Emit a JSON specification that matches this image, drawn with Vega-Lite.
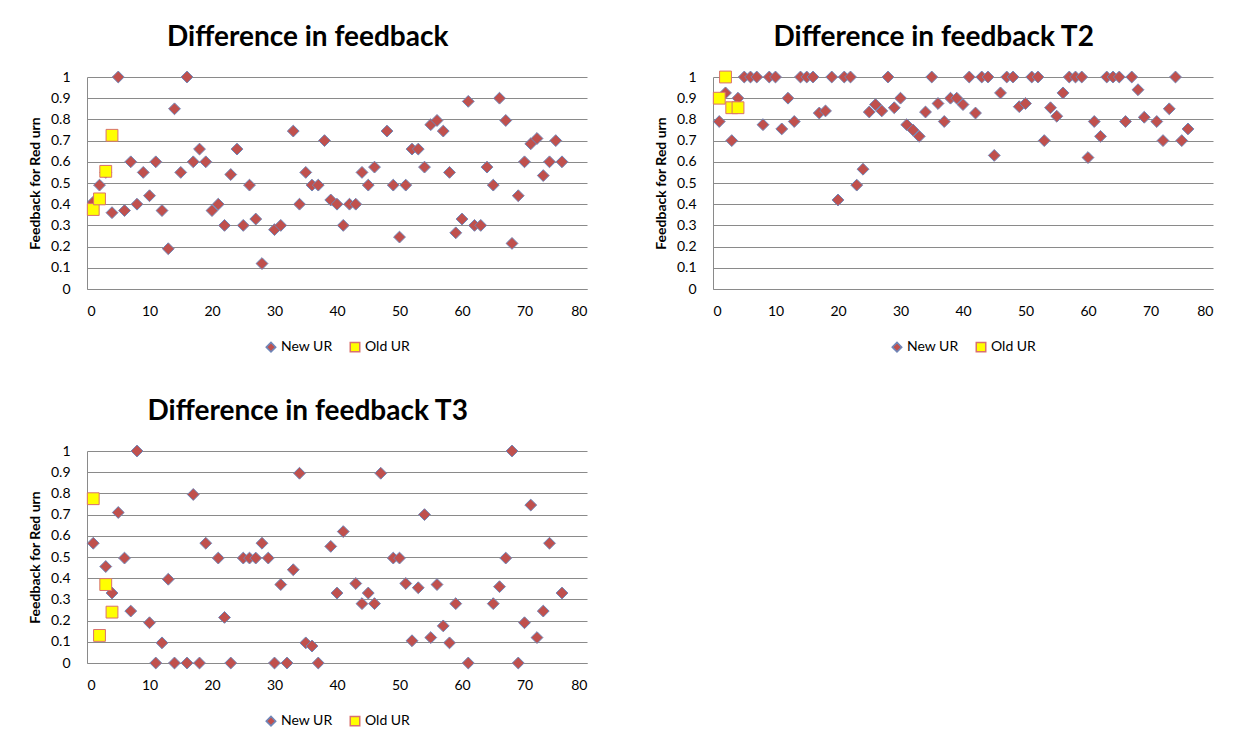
{
  "$schema": "https://vega.github.io/schema/vega-lite/v6.json",
  "padding": {"left": 28, "top": 24, "right": 5, "bottom": 5},
  "background": "white",
  "config": {
    "font": "Lato",
    "view": {"stroke": null},
    "title": {"font": "Lato", "fontSize": 28, "fontWeight": "bold", "color": "#000000", "anchor": "middle", "frame": "bounds", "offset": 17},
    "axis": {"labelFont": "Lato", "labelFontSize": 14, "labelColor": "#000000", "titleFont": "Lato", "domainColor": "#8a8a8a", "gridColor": "#8a8a8a", "ticks": false, "tickSize": 0},
    "legend": {"labelFont": "Lato", "labelFontSize": 14, "labelColor": "#000000", "orient": "bottom", "direction": "horizontal", "title": null, "symbolSize": 90, "columnPadding": 14, "labelOffset": 3, "offset": 22, "layout": {"bottom": {"anchor": "middle"}}}
  },
  "datasets": {
    "p1": [
      {"x":1,"y":0.41,"s":"New UR"},{"x":2,"y":0.49,"s":"New UR"},{"x":3,"y":0.55,"s":"New UR"},{"x":4,"y":0.36,"s":"New UR"},{"x":5,"y":1,"s":"New UR"},{"x":6,"y":0.37,"s":"New UR"},{"x":7,"y":0.6,"s":"New UR"},{"x":8,"y":0.4,"s":"New UR"},{"x":9,"y":0.55,"s":"New UR"},{"x":10,"y":0.44,"s":"New UR"},
      {"x":11,"y":0.6,"s":"New UR"},{"x":12,"y":0.37,"s":"New UR"},{"x":13,"y":0.19,"s":"New UR"},{"x":14,"y":0.85,"s":"New UR"},{"x":15,"y":0.55,"s":"New UR"},{"x":16,"y":1,"s":"New UR"},{"x":17,"y":0.6,"s":"New UR"},{"x":18,"y":0.66,"s":"New UR"},{"x":19,"y":0.6,"s":"New UR"},{"x":20,"y":0.37,"s":"New UR"},
      {"x":21,"y":0.4,"s":"New UR"},{"x":22,"y":0.3,"s":"New UR"},{"x":23,"y":0.54,"s":"New UR"},{"x":24,"y":0.66,"s":"New UR"},{"x":25,"y":0.3,"s":"New UR"},{"x":26,"y":0.49,"s":"New UR"},{"x":27,"y":0.33,"s":"New UR"},{"x":28,"y":0.12,"s":"New UR"},{"x":30,"y":0.28,"s":"New UR"},
      {"x":31,"y":0.3,"s":"New UR"},{"x":33,"y":0.745,"s":"New UR"},{"x":34,"y":0.4,"s":"New UR"},{"x":35,"y":0.55,"s":"New UR"},{"x":36,"y":0.49,"s":"New UR"},{"x":37,"y":0.49,"s":"New UR"},{"x":38,"y":0.7,"s":"New UR"},{"x":39,"y":0.42,"s":"New UR"},{"x":40,"y":0.4,"s":"New UR"},
      {"x":41,"y":0.3,"s":"New UR"},{"x":42,"y":0.4,"s":"New UR"},{"x":43,"y":0.4,"s":"New UR"},{"x":44,"y":0.55,"s":"New UR"},{"x":45,"y":0.49,"s":"New UR"},{"x":46,"y":0.575,"s":"New UR"},{"x":48,"y":0.745,"s":"New UR"},{"x":49,"y":0.49,"s":"New UR"},{"x":50,"y":0.245,"s":"New UR"},
      {"x":51,"y":0.49,"s":"New UR"},{"x":52,"y":0.66,"s":"New UR"},{"x":53,"y":0.66,"s":"New UR"},{"x":54,"y":0.575,"s":"New UR"},{"x":55,"y":0.775,"s":"New UR"},{"x":56,"y":0.795,"s":"New UR"},{"x":57,"y":0.745,"s":"New UR"},{"x":58,"y":0.55,"s":"New UR"},{"x":59,"y":0.265,"s":"New UR"},{"x":60,"y":0.33,"s":"New UR"},
      {"x":61,"y":0.885,"s":"New UR"},{"x":62,"y":0.3,"s":"New UR"},{"x":63,"y":0.3,"s":"New UR"},{"x":64,"y":0.575,"s":"New UR"},{"x":65,"y":0.49,"s":"New UR"},{"x":66,"y":0.9,"s":"New UR"},{"x":67,"y":0.795,"s":"New UR"},{"x":68,"y":0.215,"s":"New UR"},{"x":69,"y":0.44,"s":"New UR"},{"x":70,"y":0.6,"s":"New UR"},
      {"x":71,"y":0.685,"s":"New UR"},{"x":72,"y":0.71,"s":"New UR"},{"x":73,"y":0.535,"s":"New UR"},{"x":74,"y":0.6,"s":"New UR"},{"x":75,"y":0.7,"s":"New UR"},{"x":76,"y":0.6,"s":"New UR"},
      {"x":1,"y":0.375,"s":"Old UR"},{"x":2,"y":0.425,"s":"Old UR"},{"x":3,"y":0.555,"s":"Old UR"},{"x":4,"y":0.725,"s":"Old UR"}
    ],
    "p2": [
      {"x":1,"y":0.79,"s":"New UR"},{"x":2,"y":0.925,"s":"New UR"},{"x":3,"y":0.7,"s":"New UR"},{"x":4,"y":0.9,"s":"New UR"},{"x":5,"y":1,"s":"New UR"},{"x":6,"y":1,"s":"New UR"},{"x":7,"y":1,"s":"New UR"},{"x":8,"y":0.775,"s":"New UR"},{"x":9,"y":1,"s":"New UR"},{"x":10,"y":1,"s":"New UR"},
      {"x":11,"y":0.755,"s":"New UR"},{"x":12,"y":0.9,"s":"New UR"},{"x":13,"y":0.79,"s":"New UR"},{"x":14,"y":1,"s":"New UR"},{"x":15,"y":1,"s":"New UR"},{"x":16,"y":1,"s":"New UR"},{"x":17,"y":0.83,"s":"New UR"},{"x":18,"y":0.84,"s":"New UR"},{"x":19,"y":1,"s":"New UR"},{"x":20,"y":0.42,"s":"New UR"},
      {"x":21,"y":1,"s":"New UR"},{"x":22,"y":1,"s":"New UR"},{"x":23,"y":0.49,"s":"New UR"},{"x":24,"y":0.565,"s":"New UR"},{"x":25,"y":0.835,"s":"New UR"},{"x":26,"y":0.87,"s":"New UR"},{"x":27,"y":0.84,"s":"New UR"},{"x":28,"y":1,"s":"New UR"},{"x":29,"y":0.855,"s":"New UR"},{"x":30,"y":0.9,"s":"New UR"},
      {"x":31,"y":0.775,"s":"New UR"},{"x":32,"y":0.75,"s":"New UR"},{"x":33,"y":0.72,"s":"New UR"},{"x":34,"y":0.835,"s":"New UR"},{"x":35,"y":1,"s":"New UR"},{"x":36,"y":0.875,"s":"New UR"},{"x":37,"y":0.79,"s":"New UR"},{"x":38,"y":0.9,"s":"New UR"},{"x":39,"y":0.9,"s":"New UR"},{"x":40,"y":0.87,"s":"New UR"},
      {"x":41,"y":1,"s":"New UR"},{"x":42,"y":0.83,"s":"New UR"},{"x":43,"y":1,"s":"New UR"},{"x":44,"y":1,"s":"New UR"},{"x":45,"y":0.63,"s":"New UR"},{"x":46,"y":0.925,"s":"New UR"},{"x":47,"y":1,"s":"New UR"},{"x":48,"y":1,"s":"New UR"},{"x":49,"y":0.86,"s":"New UR"},{"x":50,"y":0.875,"s":"New UR"},
      {"x":51,"y":1,"s":"New UR"},{"x":52,"y":1,"s":"New UR"},{"x":53,"y":0.7,"s":"New UR"},{"x":54,"y":0.855,"s":"New UR"},{"x":55,"y":0.815,"s":"New UR"},{"x":56,"y":0.925,"s":"New UR"},{"x":57,"y":1,"s":"New UR"},{"x":58,"y":1,"s":"New UR"},{"x":59,"y":1,"s":"New UR"},{"x":60,"y":0.62,"s":"New UR"},
      {"x":61,"y":0.79,"s":"New UR"},{"x":62,"y":0.72,"s":"New UR"},{"x":63,"y":1,"s":"New UR"},{"x":64,"y":1,"s":"New UR"},{"x":65,"y":1,"s":"New UR"},{"x":66,"y":0.79,"s":"New UR"},{"x":67,"y":1,"s":"New UR"},{"x":68,"y":0.94,"s":"New UR"},{"x":69,"y":0.81,"s":"New UR"},
      {"x":71,"y":0.79,"s":"New UR"},{"x":72,"y":0.7,"s":"New UR"},{"x":73,"y":0.85,"s":"New UR"},{"x":74,"y":1,"s":"New UR"},{"x":75,"y":0.7,"s":"New UR"},{"x":76,"y":0.755,"s":"New UR"},
      {"x":1,"y":0.9,"s":"Old UR"},{"x":2,"y":1,"s":"Old UR"},{"x":3,"y":0.855,"s":"Old UR"},{"x":4,"y":0.855,"s":"Old UR"}
    ],
    "p3": [
      {"x":1,"y":0.565,"s":"New UR"},{"x":3,"y":0.455,"s":"New UR"},{"x":4,"y":0.33,"s":"New UR"},{"x":5,"y":0.71,"s":"New UR"},{"x":6,"y":0.495,"s":"New UR"},{"x":7,"y":0.245,"s":"New UR"},{"x":8,"y":1,"s":"New UR"},{"x":10,"y":0.19,"s":"New UR"},
      {"x":11,"y":0,"s":"New UR"},{"x":12,"y":0.095,"s":"New UR"},{"x":13,"y":0.395,"s":"New UR"},{"x":14,"y":0,"s":"New UR"},{"x":16,"y":0,"s":"New UR"},{"x":17,"y":0.795,"s":"New UR"},{"x":18,"y":0,"s":"New UR"},{"x":19,"y":0.565,"s":"New UR"},
      {"x":21,"y":0.495,"s":"New UR"},{"x":22,"y":0.215,"s":"New UR"},{"x":23,"y":0,"s":"New UR"},{"x":25,"y":0.495,"s":"New UR"},{"x":26,"y":0.495,"s":"New UR"},{"x":27,"y":0.495,"s":"New UR"},{"x":28,"y":0.565,"s":"New UR"},{"x":29,"y":0.495,"s":"New UR"},{"x":30,"y":0,"s":"New UR"},
      {"x":31,"y":0.37,"s":"New UR"},{"x":32,"y":0,"s":"New UR"},{"x":33,"y":0.44,"s":"New UR"},{"x":34,"y":0.895,"s":"New UR"},{"x":35,"y":0.095,"s":"New UR"},{"x":36,"y":0.08,"s":"New UR"},{"x":37,"y":0,"s":"New UR"},{"x":39,"y":0.55,"s":"New UR"},{"x":40,"y":0.33,"s":"New UR"},
      {"x":41,"y":0.62,"s":"New UR"},{"x":43,"y":0.375,"s":"New UR"},{"x":44,"y":0.28,"s":"New UR"},{"x":45,"y":0.33,"s":"New UR"},{"x":46,"y":0.28,"s":"New UR"},{"x":47,"y":0.895,"s":"New UR"},{"x":49,"y":0.495,"s":"New UR"},{"x":50,"y":0.495,"s":"New UR"},
      {"x":51,"y":0.375,"s":"New UR"},{"x":52,"y":0.105,"s":"New UR"},{"x":53,"y":0.355,"s":"New UR"},{"x":54,"y":0.7,"s":"New UR"},{"x":55,"y":0.12,"s":"New UR"},{"x":56,"y":0.37,"s":"New UR"},{"x":57,"y":0.175,"s":"New UR"},{"x":58,"y":0.095,"s":"New UR"},{"x":59,"y":0.28,"s":"New UR"},
      {"x":61,"y":0,"s":"New UR"},{"x":65,"y":0.28,"s":"New UR"},{"x":66,"y":0.36,"s":"New UR"},{"x":67,"y":0.495,"s":"New UR"},{"x":68,"y":1,"s":"New UR"},{"x":69,"y":0,"s":"New UR"},{"x":70,"y":0.19,"s":"New UR"},
      {"x":71,"y":0.745,"s":"New UR"},{"x":72,"y":0.12,"s":"New UR"},{"x":73,"y":0.245,"s":"New UR"},{"x":74,"y":0.565,"s":"New UR"},{"x":76,"y":0.33,"s":"New UR"},
      {"x":1,"y":0.775,"s":"Old UR"},{"x":2,"y":0.13,"s":"Old UR"},{"x":3,"y":0.37,"s":"Old UR"},{"x":4,"y":0.24,"s":"Old UR"}
    ]
  },
  "columns": 2,
  "spacing": {"column": 67, "row": 43},
  "resolve": {"scale": {"shape": "independent", "fill": "independent", "stroke": "independent", "x": "independent", "y": "independent"}, "legend": {"shape": "independent", "fill": "independent", "stroke": "independent"}},
  "concat": [
    {
      "title": "Difference in feedback",
      "width": 500, "height": 212,
      "data": {"name": "p1"},
      "mark": {"type": "point", "filled": true, "size": 140, "strokeWidth": 1, "opacity": 1},
      "encoding": {
        "x": {"field": "x", "type": "quantitative", "scale": {"domain": [0, 80], "nice": false}, "axis": {"values": [0,10,20,30,40,50,60,70,80], "grid": false, "title": null, "labelPadding": 15, "domain": true}},
        "y": {"field": "y", "type": "quantitative", "scale": {"domain": [0, 1], "nice": false}, "axis": {"values": [0,0.1,0.2,0.3,0.4,0.5,0.6,0.7,0.8,0.9,1], "format": "~g", "grid": true, "title": "Feedback for Red urn", "titleFontSize": 14, "titleFontWeight": "bold", "titleColor": "#000000", "titlePadding": 8, "labelPadding": 17}},
        "shape": {"field": "s", "type": "nominal", "scale": {"domain": ["New UR", "Old UR"], "range": ["diamond", "square"]}},
        "fill": {"field": "s", "type": "nominal", "scale": {"domain": ["New UR", "Old UR"], "range": ["#C0504D", "#FFFF00"]}},
        "stroke": {"field": "s", "type": "nominal", "scale": {"domain": ["New UR", "Old UR"], "range": ["#6F86B8", "#D9716E"]}}
      }
    },
    {
      "title": "Difference in feedback T2",
      "width": 500, "height": 212,
      "data": {"name": "p2"},
      "mark": {"type": "point", "filled": true, "size": 140, "strokeWidth": 1, "opacity": 1},
      "encoding": {
        "x": {"field": "x", "type": "quantitative", "scale": {"domain": [0, 80], "nice": false}, "axis": {"values": [0,10,20,30,40,50,60,70,80], "grid": false, "title": null, "labelPadding": 15, "domain": true}},
        "y": {"field": "y", "type": "quantitative", "scale": {"domain": [0, 1], "nice": false}, "axis": {"values": [0,0.1,0.2,0.3,0.4,0.5,0.6,0.7,0.8,0.9,1], "format": "~g", "grid": true, "title": "Feedback for Red urn", "titleFontSize": 14, "titleFontWeight": "bold", "titleColor": "#000000", "titlePadding": 8, "labelPadding": 17}},
        "shape": {"field": "s", "type": "nominal", "scale": {"domain": ["New UR", "Old UR"], "range": ["diamond", "square"]}},
        "fill": {"field": "s", "type": "nominal", "scale": {"domain": ["New UR", "Old UR"], "range": ["#C0504D", "#FFFF00"]}},
        "stroke": {"field": "s", "type": "nominal", "scale": {"domain": ["New UR", "Old UR"], "range": ["#6F86B8", "#D9716E"]}}
      }
    },
    {
      "title": "Difference in feedback T3",
      "width": 500, "height": 212,
      "data": {"name": "p3"},
      "mark": {"type": "point", "filled": true, "size": 140, "strokeWidth": 1, "opacity": 1},
      "encoding": {
        "x": {"field": "x", "type": "quantitative", "scale": {"domain": [0, 80], "nice": false}, "axis": {"values": [0,10,20,30,40,50,60,70,80], "grid": false, "title": null, "labelPadding": 15, "domain": true}},
        "y": {"field": "y", "type": "quantitative", "scale": {"domain": [0, 1], "nice": false}, "axis": {"values": [0,0.1,0.2,0.3,0.4,0.5,0.6,0.7,0.8,0.9,1], "format": "~g", "grid": true, "title": "Feedback for Red urn", "titleFontSize": 14, "titleFontWeight": "bold", "titleColor": "#000000", "titlePadding": 8, "labelPadding": 17}},
        "shape": {"field": "s", "type": "nominal", "scale": {"domain": ["New UR", "Old UR"], "range": ["diamond", "square"]}},
        "fill": {"field": "s", "type": "nominal", "scale": {"domain": ["New UR", "Old UR"], "range": ["#C0504D", "#FFFF00"]}},
        "stroke": {"field": "s", "type": "nominal", "scale": {"domain": ["New UR", "Old UR"], "range": ["#6F86B8", "#D9716E"]}}
      }
    }
  ]
}
